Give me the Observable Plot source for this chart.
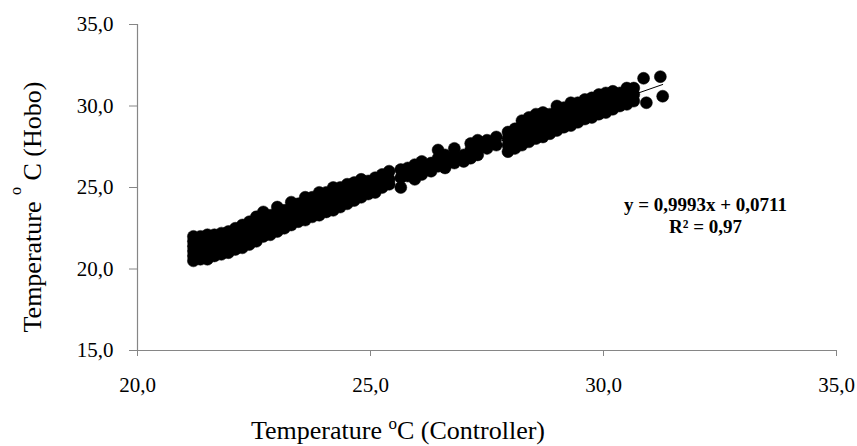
<!DOCTYPE html>
<html><head><meta charset="utf-8">
<script src="https://cdn.jsdelivr.net/npm/d3@7"></script>
<script src="https://cdn.jsdelivr.net/npm/@observablehq/plot@0.6"></script>
<style>body{margin:0;background:#fff}</style>
</head><body><div id="chart"></div>
<script>
// Controller temperature (x) columns and the Hobo readings (y) observed at each
const controllerX = [21.2,21.35,21.5,21.65,21.8,21.95,22.1,22.25,22.4,22.55,22.7,22.85,23.0,23.15,23.3,23.45,23.6,23.75,23.9,24.05,24.2,24.35,24.5,24.65,24.8,24.95,25.1,25.25,25.4,25.65,25.8,25.95,26.1,26.3,26.45,26.6,26.8,27.0,27.15,27.3,27.5,27.7,27.95,28.1,28.25,28.4,28.55,28.7,28.85,29.0,29.15,29.3,29.45,29.6,29.75,29.9,30.05,30.2,30.35,30.5,30.65,30.86,30.92,31.22,31.27];
const hoboY = [
  [20.5,20.8,21.1,21.4,21.7,22.0],
  [20.6,20.9,21.2,21.5,21.8,22.0],
  [20.6,20.9,21.2,21.5,21.8,22.1],
  [20.8,21.1,21.4,21.7,22.1],
  [20.9,21.2,21.5,21.8,22.2],
  [21.0,21.3,21.6,21.9,22.3],
  [21.2,21.5,21.8,22.1,22.5],
  [21.3,21.6,21.9,22.3,22.7],
  [21.5,21.8,22.1,22.5,22.9],
  [21.7,22.0,22.4,22.8,23.2],
  [22.0,22.3,22.7,23.1,23.5],
  [22.1,22.5,22.9,23.3],
  [22.3,22.7,23.0,23.5,23.8],
  [22.5,22.9,23.2,23.6],
  [22.7,23.0,23.4,23.8,24.1],
  [22.9,23.2,23.6,24.0],
  [23.0,23.4,23.8,24.2,24.4],
  [23.2,23.6,24.0,24.4],
  [23.3,23.7,24.1,24.5,24.7],
  [23.5,23.9,24.3,24.7],
  [23.6,24.0,24.4,24.8,25.0],
  [23.8,24.2,24.6,25.0],
  [24.0,24.4,24.8,25.2],
  [24.2,24.6,25.0,25.3],
  [24.4,24.8,25.2,25.5],
  [24.6,25.0,25.4],
  [24.7,25.1,25.6],
  [25.0,25.4,25.8],
  [25.2,25.5,26.0],
  [25.0,25.6,26.1],
  [25.7,26.2],
  [25.5,25.9,26.4],
  [25.8,26.2,26.6],
  [26.0,26.5],
  [26.3,26.8,27.3],
  [26.2,26.6,27.0],
  [26.5,26.9,27.4],
  [26.6,27.0],
  [26.8,27.3,27.7],
  [27.0,27.5,27.9],
  [27.4,27.9],
  [27.6,28.1],
  [27.2,27.6,28.0,28.4],
  [27.4,27.8,28.2,28.6],
  [27.6,28.0,28.4,28.8,29.1],
  [27.8,28.2,28.6,29.0,29.3],
  [28.0,28.4,28.8,29.2,29.5],
  [28.1,28.5,28.9,29.3,29.6],
  [28.3,28.7,29.1,29.5],
  [28.5,28.9,29.3,29.7,30.0],
  [28.7,29.1,29.5,29.9],
  [28.8,29.2,29.6,30.0,30.2],
  [29.0,29.4,29.8,30.2],
  [29.2,29.6,30.0,30.4],
  [29.3,29.7,30.1,30.5],
  [29.5,29.9,30.3,30.7],
  [29.6,30.0,30.4,30.8],
  [29.8,30.2,30.6,30.9],
  [30.0,30.4,30.8],
  [30.1,30.5,30.9,31.1],
  [30.3,30.7,31.1],
  [31.7],
  [30.2],
  [31.8],
  [30.6]
];
const slope = 0.9993, intercept = 0.0711, r2 = "0,97";
const xTicks = [20, 25, 30, 35];
const yTicks = [15, 20, 25, 30, 35];
const xTitle = ["Temperature ", "o", "C (Controller)"];
const yTitle = ["Temperature ", "o", " C (Hobo)"];
const equation = ["y = 0,9993x + 0,0711", "R² = " + r2];

const points = controllerX.flatMap((x, i) => hoboY[i].map(y => ({x, y})));
const trend = d3.extent(points, d => d.x).map(x => ({x, y: slope * x + intercept}));
const fmt = d => d.toFixed(1).replace(".", ",");
const axisGray = "#868686";
const serif = "'Liberation Serif', 'Times New Roman', serif";

const plot = Plot.plot({
  width: 857, height: 446,
  marginLeft: 137, marginRight: 21, marginTop: 24, marginBottom: 96,
  style: {fontFamily: serif, fontSize: "21px", color: "#000", background: "#fff"},
  x: {domain: [20, 35], label: null},
  y: {domain: [15, 35], label: null},
  marks: [
    Plot.ruleX([20], {stroke: axisGray, strokeWidth: 1.2}),
    Plot.ruleY([15], {stroke: axisGray, strokeWidth: 1.2}),
    Plot.axisX({ticks: xTicks, tickSize: 6, stroke: axisGray, tickFormat: () => "", label: null}),
    Plot.axisX({ticks: xTicks, tickSize: 0, tickPadding: 27, tickFormat: fmt, label: null, fill: "#000"}),
    Plot.axisY({ticks: yTicks, tickSize: 8, stroke: axisGray, tickFormat: () => "", label: null}),
    Plot.axisY({ticks: yTicks, tickSize: 0, tickPadding: 24, tickFormat: fmt, label: null, fill: "#000"}),
    Plot.dot(points, {x: "x", y: "y", r: 6, fill: "#000", stroke: "#000", strokeWidth: 0.5}),
    Plot.line(trend, {x: "x", y: "y", stroke: "#000", strokeWidth: 1})
  ]
});
document.getElementById("chart").appendChild(plot);

const svg = d3.select(plot);
const sx = plot.scale("x"), sy = plot.scale("y");

// x title
const xt = svg.append("text")
  .attr("x", 398).attr("y", 439)
  .attr("text-anchor", "middle")
  .style("font-family", serif).style("font-size", "26px").attr("fill", "#000");
xt.append("tspan").text(xTitle[0]);
xt.append("tspan").attr("dy", -10).style("font-size", "17px").text(xTitle[1]);
xt.append("tspan").attr("dy", 10).text(xTitle[2]);

// y title
const yt = svg.append("text")
  .attr("transform", "translate(41,207) rotate(-90)")
  .attr("text-anchor", "middle")
  .style("font-family", serif).style("font-size", "26px").attr("fill", "#000")
  .style("white-space", "pre");
yt.append("tspan").text(yTitle[0]);
yt.append("tspan").attr("dy", -20).style("font-size", "16px").text(yTitle[1]);
yt.append("tspan").attr("dy", 20).text(yTitle[2]);

// regression annotation
const ex = sx.apply(32.2);
equation.forEach((t, i) => {
  svg.append("text")
    .attr("x", ex).attr("y", sy.apply(23.5) + i * 22)
    .attr("text-anchor", "middle")
    .style("font-family", serif).style("font-size", "19px").style("font-weight", "bold")
    .attr("fill", "#000").text(t);
});
</script>
</body></html>
